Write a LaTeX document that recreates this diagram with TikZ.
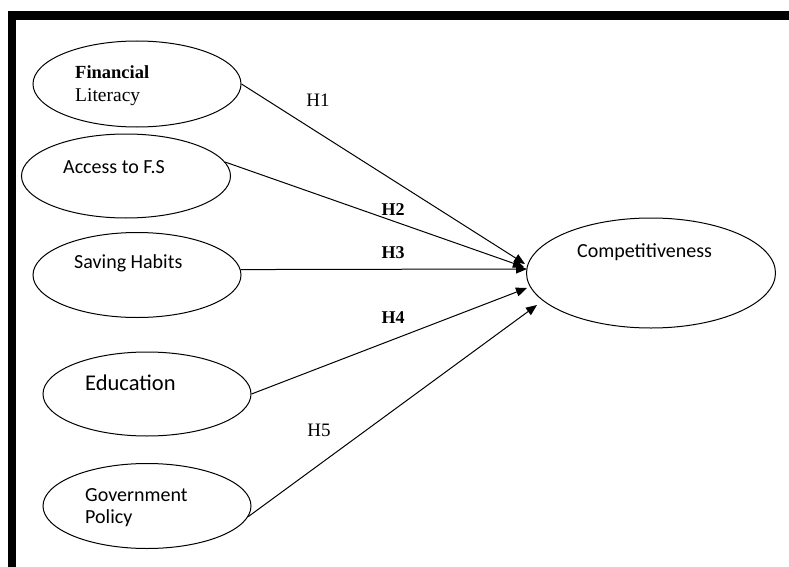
\documentclass[tikz,border=0pt]{standalone}
\usepackage{fontspec}
\setmainfont{Liberation Serif}
\newfontfamily\calib{Carlito}
\usetikzlibrary{shapes.geometric,arrows.meta}
\begin{document}
\begin{tikzpicture}[x=1pt,y=-1pt,
  oval/.style={draw=black,line width=1pt,ellipse,inner sep=0pt},
  lbl/.style={anchor=west,inner sep=0pt,font=\calib\fontsize{20}{24}\selectfont},
  hlbl/.style={inner sep=0pt,font=\fontsize{19}{22}\selectfont},
  conn/.style={draw=black,line width=1pt,-{Triangle[length=11pt,width=9pt]}}]
\useasboundingbox (0,0) rectangle (789,567);
% frame
\fill[black] (8,11) rectangle (789,20);
\fill[black] (8,11) rectangle (16,567);
% ellipses
\node[oval,minimum width=208pt,minimum height=86pt] (fl) at (137,84) {};
\node[oval,minimum width=209pt,minimum height=84pt] (afs) at (126,176) {};
\node[oval,minimum width=208pt,minimum height=85pt] (sh) at (137,275) {};
\node[oval,minimum width=208pt,minimum height=84pt] (edu) at (147,394) {};
\node[oval,minimum width=208pt,minimum height=85pt] (gov) at (147,506) {};
\node[oval,minimum width=249pt,minimum height=110pt] (comp) at (651,273) {};
% texts
\node[anchor=west,inner sep=0pt,font=\bfseries\fontsize{18.5}{22}\selectfont] (tfl1) at (75,72) {Financial};
\node[anchor=west,inner sep=0pt,font=\fontsize{19.5}{22}\selectfont] (tfl2) at (75,97) {Literacy};
\node[lbl] (tafs) at (63,167) {Access to F.S};
\node[lbl] (tsh) at (74,263) {Saving Habits};
\node[lbl,font=\calib\fontsize{22.5}{26}\selectfont] (tedu) at (85,383) {Education};
\node[lbl] (tgov1) at (85,495) {Government};
\node[lbl] (tgov2) at (85,518) {Policy};
\node[lbl] (tcomp) at (577,252) {Competitiveness};
% hypothesis labels
\node[hlbl] (h1) at (318,100) {H1};
\node[hlbl,font=\bfseries\fontsize{18}{21}\selectfont] (h2) at (393,210) {H2};
\node[hlbl,font=\bfseries\fontsize{18}{21}\selectfont] (h3) at (393,253) {H3};
\node[hlbl,font=\bfseries\fontsize{18}{21}\selectfont] (h4) at (393,318) {H4};
\node[hlbl] (h5) at (319,430) {H5};
% arrow tips
\coordinate (t1) at (525,264);
\coordinate (t2) at (524,267);
\coordinate (t3) at (527,269);
\coordinate (t4) at (527,288);
\coordinate (t5) at (537,305);
% connectors
\draw[conn] (fl.east) -- (t1);
\draw[conn] (afs.8) -- (t2);
\draw[conn] (sh.3.3) -- (t3);
\draw[conn] (edu.east) -- (t4);
\draw[conn] (gov.-6) -- (t5);
\end{tikzpicture}
\end{document}
